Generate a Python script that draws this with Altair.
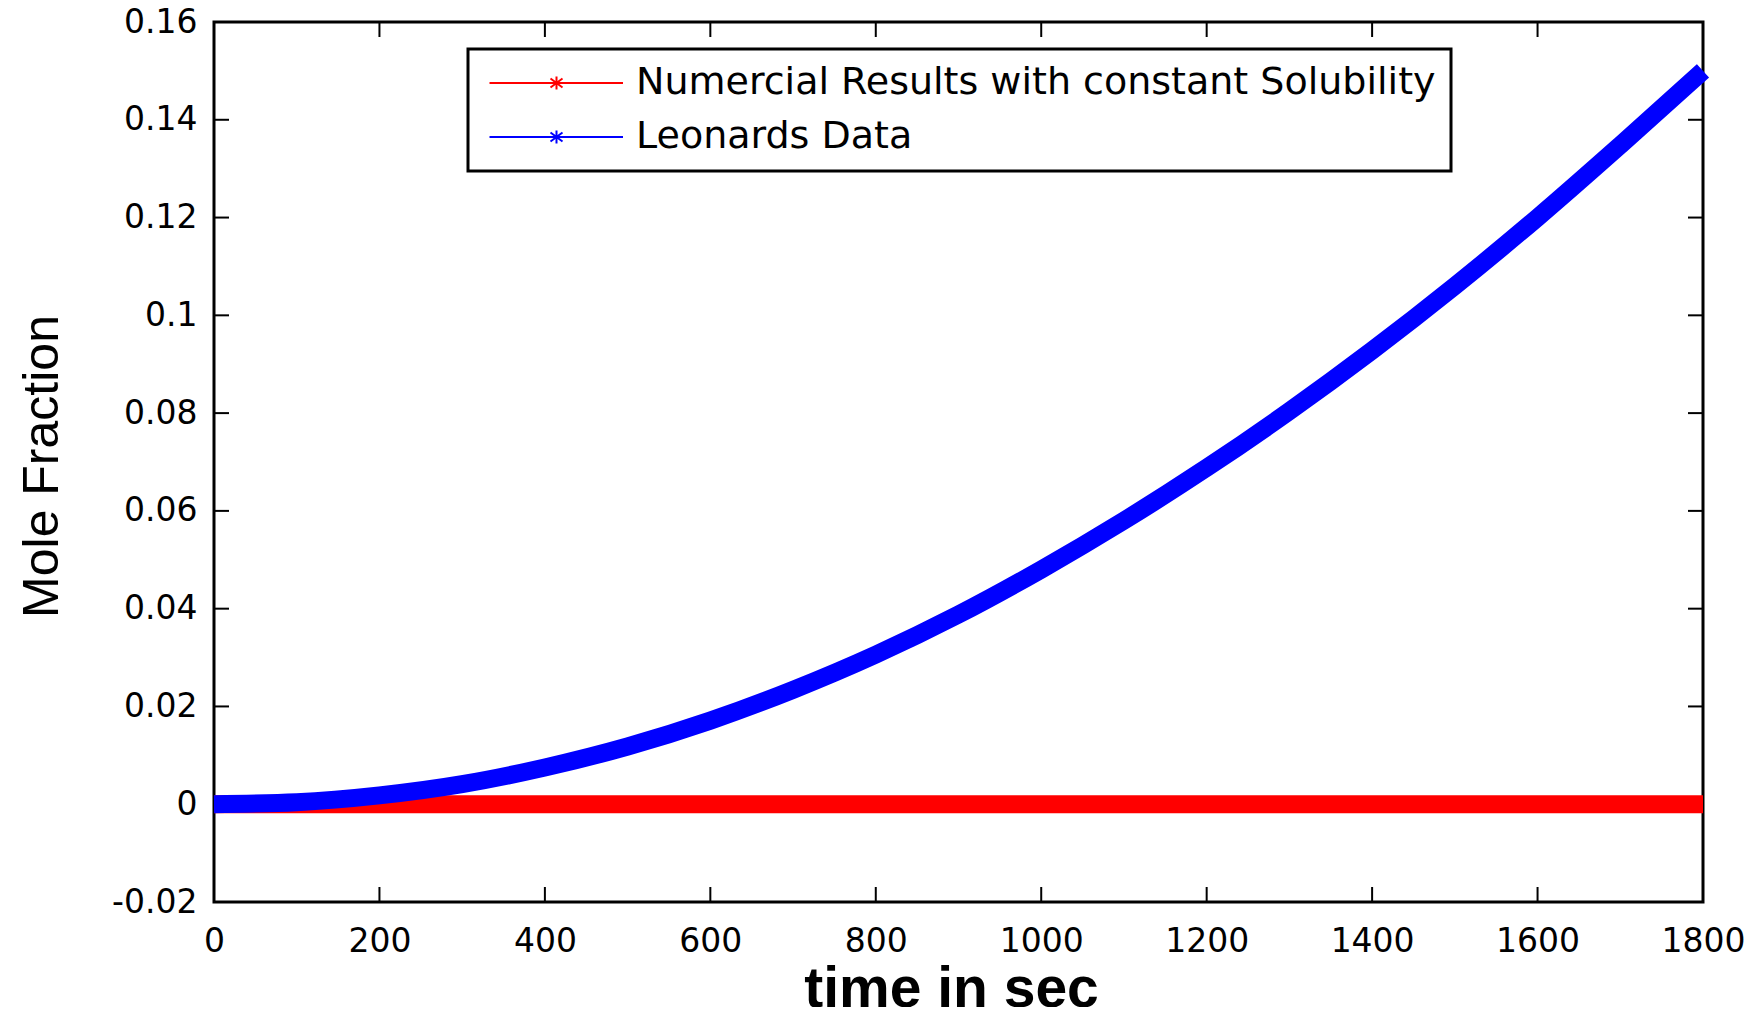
import altair as alt
import pandas as pd

# ---- data ----
time_s = [0, 100, 200, 300, 400, 500, 600, 700, 800, 900,
          1000, 1100, 1200, 1300, 1400, 1500, 1600, 1700, 1800]
leonards = [0.0000, 0.0004, 0.0018, 0.0041, 0.0075, 0.0118, 0.0171, 0.0234, 0.0306, 0.0388,
            0.0480, 0.0580, 0.0688, 0.0804, 0.0928, 0.1060, 0.1200, 0.1348, 0.1500]
numerical = [0.0, 0.0, 0.0, 0.0, 0.0, 0.0, 0.0, 0.0, 0.0, 0.0,
             0.0, 0.0, 0.0, 0.0, 0.0, 0.0, 0.0, 0.0, 0.0]
x_ticks = [0, 200, 400, 600, 800, 1000, 1200, 1400, 1600, 1800]
y_ticks = [-0.02, 0.0, 0.02, 0.04, 0.06, 0.08, 0.10, 0.12, 0.14, 0.16]

RED_NAME = "Numercial Results with constant Solubility"
BLUE_NAME = "Leonards Data"

df_red = pd.DataFrame({"time": time_s, "mole": numerical, "series": RED_NAME})
df_blue = pd.DataFrame({"time": time_s, "mole": leonards, "series": BLUE_NAME})
df_xt = pd.DataFrame({"time": x_ticks})
df_yt = pd.DataFrame({"mole": y_ticks})

W, H = 1489, 880

xs = alt.Scale(domain=[0, 1800], nice=False, zero=False)
ys = alt.Scale(domain=[-0.02, 0.16], nice=False, zero=False)

x_axis = alt.Axis(values=x_ticks, format="d", title="time in sec", labelFlush=False,
                  labelPadding=23, titleFontSize=57, titleFontWeight="bold",
                  titleX=737, titleY=104, titleAlign="center", titleBaseline="alphabetic")
y_axis = alt.Axis(values=y_ticks, labelFlush=False,
                  labelExpr="datum.value < 0 ? '-' + format(-datum.value, '~g') : format(datum.value, '~g')",
                  title="Mole Fraction", labelPadding=17, titleFontSize=50,
                  titleFontWeight="normal", titleAngle=270, titleX=-172, titleY=444,
                  titleAlign="center", titleBaseline="middle")


def X():
    return alt.X("time:Q", scale=xs, axis=x_axis)


def Y():
    return alt.Y("mole:Q", scale=ys, axis=y_axis)


sym_path = ("M-1.25,0L12.1,0M5.45,-0.65L5.45,0.65M4.85,-0.45L6.05,0.45"
            "M4.85,0.45L6.05,-0.45M4.75,0L6.15,0")

color = alt.Color(
    "series:N",
    scale=alt.Scale(domain=[RED_NAME, BLUE_NAME], range=["#ff0000", "#0000ff"]),
    legend=alt.Legend(
        title=None, orient="none", legendX=254, legendY=27, direction="vertical",
        symbolType=sym_path, symbolSize=400, symbolStrokeWidth=2,
        symbolFillColor="transparent", symbolOpacity=1,
        labelFont="DejaVu Sans", labelFontSize=38, labelColor="black",
        labelOffset=115, labelLimit=2000, padding=15, rowPadding=16,
        strokeColor="black", fillColor="white", cornerRadius=0,
    ),
)

tick_style = dict(color="black", strokeWidth=2)
bottom_ticks = alt.Chart(df_xt).mark_rule(**tick_style).encode(
    x=X(), y=alt.value(H), y2=alt.value(H - 15))
top_ticks = alt.Chart(df_xt).mark_rule(**tick_style).encode(
    x=X(), y=alt.value(0), y2=alt.value(15))
left_ticks = alt.Chart(df_yt).mark_rule(**tick_style).encode(
    y=Y(), x=alt.value(0), x2=alt.value(15))
right_ticks = alt.Chart(df_yt).mark_rule(**tick_style).encode(
    y=Y(), x=alt.value(W), x2=alt.value(W - 15))

line_style = dict(strokeWidth=18, strokeCap="butt", strokeJoin="round",
                  interpolate="monotone", clip=False)
red = alt.Chart(df_red).mark_line(**line_style).encode(x=X(), y=Y(), color=color)
blue = alt.Chart(df_blue).mark_line(**line_style).encode(x=X(), y=Y(), color=color)

chart = (
    alt.layer(bottom_ticks, top_ticks, left_ticks, right_ticks, red, blue)
    .properties(width=W, height=H,
                autosize=alt.AutoSizeParams(type="none"),
                padding={"left": 206, "top": 14, "right": 47, "bottom": 105})
    .configure_view(stroke="black", strokeWidth=3)
    .configure_axis(labelFont="DejaVu Sans", labelFontSize=33, labelColor="black",
                    ticks=False, tickSize=0, domain=False, grid=False,
                    titleFont="Liberation Sans", titleColor="black")
    .configure_legend(strokeWidth=3)
)

chart.save("out.html", embed_options={"renderer": "svg", "actions": False})
